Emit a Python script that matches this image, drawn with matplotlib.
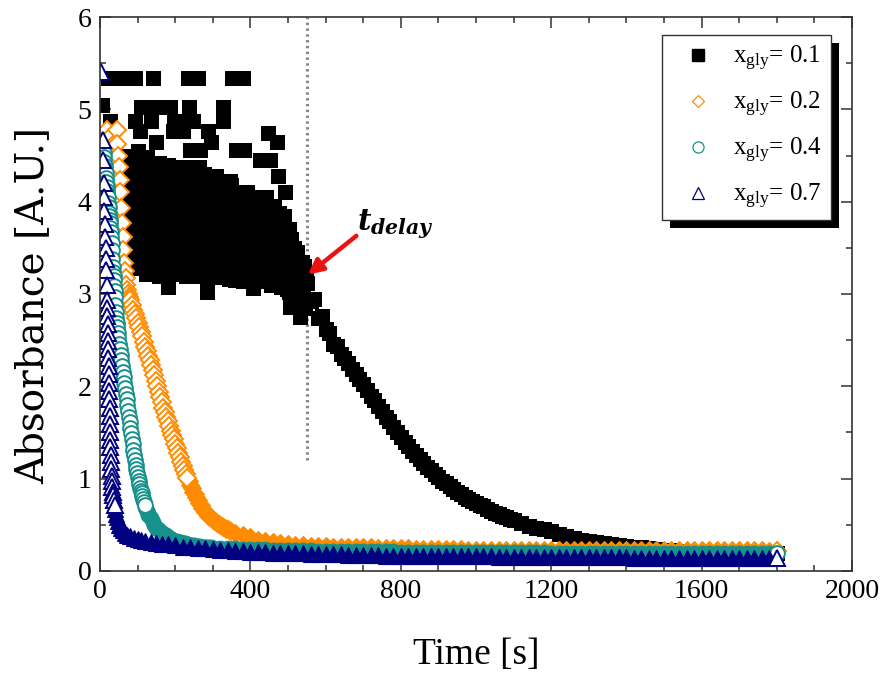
import numpy as np
import matplotlib.pyplot as plt
from matplotlib.lines import Line2D
from matplotlib.patches import Rectangle
from matplotlib.transforms import IdentityTransform
from matplotlib.ticker import MultipleLocator

plt.rcParams['font.family'] = 'Liberation Serif'
plt.rcParams['mathtext.fontset'] = 'dejavuserif'

# ---- x_gly = 0.1 (black squares) ----
t_black_early = [6, 22, 28, 62]
a_black_early = [5.05, 5.34, 4.87, 5.34]
# noisy plateau before t_delay, even seconds (with the scattered high points)
t_black_even = np.arange(70, 549, 2)
a_black_even = [
    3.25, 4.50, 3.85, 3.45, 4.30, 3.60, 4.00,
    3.95, 3.28, 4.35, 3.55, 5.34, 4.87, 3.75, 4.20, 3.35, 4.55, 3.65, 4.76,
    4.05, 5.03, 3.30, 3.90, 4.40, 3.50, 4.15, 3.22, 3.80, 4.48, 3.60, 4.25,
    3.40, 4.00, 4.87, 3.70, 5.34, 3.25, 4.30, 5.03, 3.85, 4.65, 3.55, 4.10,
    4.42, 3.20, 3.75, 4.20, 3.45, 3.95, 3.30, 4.35, 3.65, 4.05, 3.25, 3.85,
    3.08, 4.40, 3.55, 5.03, 4.15, 3.35, 3.90, 4.76, 4.87, 3.70, 4.30, 3.22,
    4.00, 3.50, 4.38, 3.28, 3.80, 4.20, 3.60, 4.05, 4.87, 4.76, 3.40, 3.95,
    4.30, 3.20, 3.70, 5.34, 4.10, 5.03, 4.56, 3.50, 3.85, 4.35, 4.87, 3.30,
    4.00, 3.60, 4.25, 3.20, 5.34, 3.75, 4.38, 4.56, 3.45, 3.95, 4.15, 3.25,
    3.65, 4.30, 3.35, 3.90, 3.02, 4.76, 4.05, 3.55, 3.20, 4.20, 4.65, 3.80,
    3.45, 4.10, 3.70, 3.18, 4.28, 3.90, 3.35, 3.60, 4.15, 3.25, 3.80, 4.00,
    3.50, 5.03, 4.87, 4.22, 3.20, 3.70, 3.95, 3.40, 4.10, 3.60, 3.16, 3.85,
    4.18, 5.34, 3.30, 3.75, 3.50, 4.00, 3.15, 4.56, 3.65, 3.90, 3.40, 4.10,
    3.25, 3.80, 4.05, 3.55, 5.34, 4.56, 3.18, 3.70, 3.95, 3.40, 4.10, 3.60,
    3.85, 3.30, 4.00, 3.50, 3.15, 3.07, 3.75, 3.95, 3.25, 3.60, 3.90, 3.40,
    3.70, 3.15, 4.00, 4.45, 3.50, 3.85, 3.30, 3.95, 3.60, 3.20, 3.75, 3.45,
    3.90, 4.74, 3.35, 3.65, 4.45, 3.15, 3.80, 3.50, 3.25, 3.70, 3.95, 3.40,
    3.60, 3.15, 4.65, 4.28, 3.80, 3.35, 3.55, 3.08, 3.75, 3.25, 3.50, 3.85,
    4.11, 3.30, 3.60, 3.05, 3.45, 3.70, 3.15, 2.86, 3.55, 3.25, 3.40, 3.00,
    3.50, 3.20, 3.35, 2.95, 3.45, 3.10, 3.30, 2.90, 2.75, 3.25, 3.05, 3.35,
    3.00, 3.30, 2.85, 3.15, 2.95]
# same plateau, odd seconds (dense core of the cloud)
t_black_odd = np.arange(71, 548, 2)
core_a0 = [3.30, 4.00, 3.50, 4.15, 3.80, 3.35, 4.30]
core_a1 = [3.90, 3.40, 4.25, 3.60, 4.40, 3.30, 4.00, 3.50, 4.15, 3.80, 3.35, 4.30]
core_a2 = [3.45, 4.10, 3.65, 4.35, 3.28, 3.85, 4.20, 3.55, 3.95, 3.40, 4.45, 3.70]
core_b1 = [3.85, 3.35, 4.20, 3.55, 4.38, 3.25, 3.95, 3.45, 4.10, 3.75, 3.30, 4.25]
core_b2 = [3.40, 4.05, 3.60, 4.30, 3.22, 3.80, 4.15, 3.50, 3.90, 3.35, 4.35, 3.65]
core_c1 = [3.80, 3.30, 4.10, 3.50, 4.25, 3.20, 3.90, 3.40, 4.00, 3.65, 3.25, 4.15]
core_c2 = [3.35, 3.95, 3.55, 4.20, 3.18, 3.75, 4.05, 3.45, 3.85, 3.28, 4.22, 3.60]
core_d1 = [3.70, 3.25, 3.95, 3.45, 4.05, 3.15, 3.80, 3.35, 3.90, 3.55, 3.20, 4.00]
core_d2 = [3.30, 3.85, 3.50, 4.02, 3.14, 3.65, 3.92, 3.40, 3.75, 3.22, 4.05, 3.58]
core_e1 = [3.60, 3.20, 3.85, 3.40, 3.90, 3.10, 3.70, 3.30, 3.80, 3.50, 3.15, 3.75]
core_e2 = [3.25, 3.75, 3.45, 3.88, 3.12, 3.65, 3.35, 3.82, 3.55, 3.18, 3.70, 3.40]
core_f1 = [3.45, 3.10, 3.65, 3.25, 3.70, 3.02, 3.55, 3.18, 3.60, 3.35, 3.05, 3.50]
core_g1 = [3.20, 2.95, 3.30, 3.05, 3.35, 2.88, 3.25, 3.00, 3.28, 3.12, 2.92, 3.15]
core_end = [3.05, 3.25, 2.90, 3.15]
a_black_odd = (core_a0 + core_a2 + core_a1 + core_b1 + core_b2 + core_b1 + core_b2
               + core_b1 + core_c1 + core_c2 + core_c1 + core_c2 + core_d1 + core_d2
               + core_d1 + core_d2 + core_e1 + core_e2 + core_f1 + core_g1 + core_end)
t_black_decay = np.arange(550, 1091, 10)
a_black_decay = [
    3.12, 2.92, 2.95, 2.74, 2.76, 2.62, 2.58, 2.46, 2.44, 2.35,
    2.31, 2.25, 2.19, 2.13, 2.08, 2.02, 1.96, 1.90, 1.85, 1.79,
    1.73, 1.67, 1.62, 1.56, 1.50, 1.45, 1.40, 1.35, 1.30, 1.26,
    1.21, 1.17, 1.13, 1.09, 1.05, 1.02, 0.98, 0.95, 0.92, 0.89,
    0.86, 0.83, 0.80, 0.78, 0.76, 0.74, 0.72, 0.70, 0.67, 0.65,
    0.63, 0.62, 0.60, 0.58, 0.56]
t_black_tail = np.arange(1100, 1801, 20)
a_black_tail = [
    0.55, 0.52, 0.49, 0.47, 0.45, 0.43, 0.40, 0.38, 0.355, 0.335,
    0.325, 0.315, 0.305, 0.295, 0.285, 0.275, 0.265, 0.255, 0.248, 0.24,
    0.232, 0.224, 0.215, 0.205, 0.20, 0.20, 0.20, 0.20, 0.20, 0.20,
    0.20, 0.20, 0.20, 0.20, 0.20, 0.20]

# ---- x_gly = 0.2 (orange diamonds) ----
t_orange_head = [19, 28, 36, 44, 46, 48, 50, 52, 54, 56, 58, 60, 62, 64,
                 66, 68, 70, 72, 74, 76, 78]
a_orange_head = [4.78, 4.70, 4.62, 4.78, 4.62, 4.49, 4.38, 4.24, 4.10, 3.93,
                 3.77, 3.62, 3.48, 3.34, 3.25, 3.17, 3.10, 3.04, 3.00, 2.97, 2.95]
t_orange_mid = np.arange(80, 349, 4)
a_orange_mid = [
    2.93, 2.88, 2.83, 2.78, 2.74, 2.69, 2.64, 2.59, 2.54, 2.48,
    2.43, 2.38, 2.33, 2.28, 2.23, 2.18, 2.12, 2.06, 2.00, 1.94,
    1.88, 1.83, 1.77, 1.72, 1.67, 1.62, 1.57, 1.52, 1.47, 1.43,
    1.38, 1.33, 1.28, 1.23, 1.18, 1.14, 1.09, 1.05, 1.01, 0.97,
    0.93, 0.90, 0.86, 0.83, 0.80, 0.77, 0.74, 0.71, 0.68, 0.66,
    0.64, 0.62, 0.60, 0.59, 0.57, 0.56, 0.54, 0.53, 0.52, 0.51,
    0.50, 0.49, 0.48, 0.47, 0.46, 0.45, 0.44, 0.435]
t_orange_tail = np.arange(360, 1801, 20)
a_orange_tail = [
    0.415, 0.39, 0.365, 0.34, 0.325, 0.31, 0.30, 0.29, 0.285, 0.28,
    0.275, 0.27, 0.27, 0.265, 0.265, 0.26, 0.26, 0.255, 0.255, 0.25,
    0.25, 0.248, 0.246, 0.244, 0.242, 0.24, 0.238, 0.236, 0.235, 0.234,
    0.233, 0.232, 0.231, 0.23, 0.23, 0.229, 0.228, 0.228, 0.227, 0.227,
    0.226, 0.226, 0.226, 0.226, 0.226, 0.226, 0.226, 0.226, 0.226, 0.226,
    0.225, 0.225, 0.225, 0.225, 0.225, 0.225, 0.225, 0.225, 0.225, 0.225,
    0.223, 0.223, 0.223, 0.223, 0.223, 0.223, 0.223, 0.223, 0.223, 0.223,
    0.222, 0.221, 0.22]

# ---- x_gly = 0.4 (teal circles) ----
t_teal_head = np.arange(10, 46, 1)
a_teal_head = [
    4.53, 4.48, 4.43, 4.39, 4.35, 4.31, 4.26, 4.21, 4.16, 4.12,
    4.08, 4.05, 3.99, 3.94, 3.88, 3.84, 3.80, 3.77, 3.72, 3.67,
    3.62, 3.55, 3.48, 3.38, 3.29, 3.24, 3.20, 3.15, 3.09, 3.03,
    2.97, 2.88, 2.80, 2.74, 2.69, 2.64]
t_teal_mid = np.arange(47, 130, 2)
a_teal_mid = [
    2.58, 2.52, 2.46, 2.40, 2.34, 2.28, 2.22, 2.16, 2.10, 2.04,
    1.98, 1.92, 1.86, 1.80, 1.73, 1.67, 1.61, 1.55, 1.49, 1.43,
    1.37, 1.31, 1.26, 1.20, 1.15, 1.10, 1.06, 1.02, 0.98, 0.94,
    0.90, 0.87, 0.84, 0.81, 0.78, 0.75, 0.72, 0.69, 0.67, 0.65,
    0.63, 0.61]
t_teal_late = np.arange(135, 296, 5)
a_teal_late = [
    0.57, 0.53, 0.50, 0.47, 0.45, 0.43, 0.41, 0.40, 0.385, 0.37,
    0.36, 0.35, 0.34, 0.33, 0.32, 0.315, 0.31, 0.305, 0.30, 0.295,
    0.29, 0.285, 0.28, 0.28, 0.275, 0.27, 0.27, 0.265, 0.265, 0.26,
    0.26, 0.255, 0.255]
t_teal_tail = np.arange(300, 1801, 20)
a_teal_tail = [
    0.25, 0.25, 0.245, 0.245, 0.24, 0.24, 0.235, 0.235, 0.23, 0.23,
    0.23, 0.225, 0.225, 0.225, 0.22, 0.22, 0.22, 0.22, 0.215, 0.215,
    0.215, 0.215, 0.215, 0.215, 0.215, 0.21, 0.21, 0.21, 0.21, 0.21,
    0.21, 0.21, 0.21, 0.21, 0.21, 0.205, 0.205, 0.205, 0.205, 0.205,
    0.205, 0.205, 0.205, 0.205, 0.205, 0.20, 0.20, 0.20, 0.20, 0.20,
    0.20, 0.20, 0.20, 0.20, 0.20, 0.20, 0.20, 0.20, 0.20, 0.20,
    0.20, 0.20, 0.20, 0.20, 0.20, 0.195, 0.195, 0.195, 0.195, 0.195,
    0.195, 0.195, 0.195, 0.195, 0.195, 0.195]

# ---- x_gly = 0.7 (navy triangles) ----
t_navy_head = [4, 7, 8.5, 10, 11, 12, 13, 14, 15, 16, 17, 18, 19, 19.5, 20,
               20.5, 21, 21.5, 22, 22.5, 23, 23.5, 24, 24.5, 25, 25.5, 26,
               26.5, 27, 27.5, 28, 28.5, 29, 30, 31, 32, 33, 34, 35, 37, 39,
               41, 43, 45, 48, 51, 55, 60, 66, 72, 80, 90, 100, 110, 120,
               135, 150, 165]
a_navy_head = [5.40, 4.67, 4.45, 4.20, 4.05, 3.90, 3.76, 3.62, 3.50, 3.38,
               3.26, 3.10, 2.94, 2.85, 2.76, 2.67, 2.58, 2.49, 2.40, 2.31,
               2.22, 2.13, 2.04, 1.95, 1.86, 1.77, 1.68, 1.59, 1.50, 1.42,
               1.34, 1.26, 1.18, 1.10, 1.03, 0.97, 0.91, 0.86, 0.82, 0.77,
               0.72, 0.67, 0.62, 0.58, 0.54, 0.50, 0.47, 0.44, 0.41, 0.39,
               0.375, 0.36, 0.345, 0.335, 0.325, 0.315, 0.305, 0.295]
t_navy_tail = np.arange(180, 1801, 20)
a_navy_tail = [
    0.29, 0.28, 0.265, 0.26, 0.25, 0.245, 0.24, 0.23, 0.23, 0.22,
    0.22, 0.21, 0.21, 0.205, 0.20, 0.20, 0.195, 0.19, 0.19, 0.185,
    0.185, 0.18, 0.18, 0.18, 0.175, 0.175, 0.17, 0.17, 0.17, 0.165,
    0.165, 0.165, 0.165, 0.165, 0.165, 0.165,
    0.16, 0.16, 0.16, 0.16, 0.16, 0.16, 0.16, 0.16,
    0.155, 0.155, 0.155, 0.155, 0.155, 0.155, 0.155, 0.155,
    0.15, 0.15, 0.15, 0.15, 0.15, 0.15, 0.15, 0.15, 0.15, 0.15,
    0.145, 0.145, 0.145, 0.145, 0.145, 0.145, 0.145, 0.145, 0.145, 0.145,
    0.14, 0.14, 0.14, 0.14, 0.14, 0.14, 0.14, 0.14, 0.14, 0.14]

labels = ['0.1', '0.2', '0.4', '0.7']
c_orange = '#ff8c00'
c_teal = '#17918b'
c_navy = '#000080'

t_black = np.concatenate([t_black_early, t_black_even, t_black_odd, t_black_decay, t_black_tail])
a_black = np.concatenate([a_black_early, a_black_even, a_black_odd, a_black_decay, a_black_tail])
t_orange = np.concatenate([t_orange_head, t_orange_mid, t_orange_tail])
a_orange = np.concatenate([a_orange_head, a_orange_mid, a_orange_tail])
t_teal = np.concatenate([t_teal_head, t_teal_mid, t_teal_late, t_teal_tail])
a_teal = np.concatenate([a_teal_head, a_teal_mid, a_teal_late, a_teal_tail])
t_navy = np.concatenate([t_navy_head, t_navy_tail])
a_navy = np.concatenate([a_navy_head, a_navy_tail])

ms_sq, ms_di, ms_ci, ms_tri = 10.8, 9.6, 10.6, 11.4

fig = plt.figure(figsize=(8.87, 6.75), dpi=100)
ax = fig.add_axes([0.1127, 0.1541, 0.8478, 0.8207])


def draw(t, a, marker, color, ms, t_open):
    # dense overlapping points look solid; the sparse steep part shows open symbols
    solid = (t >= t_open) & (t < t.max())
    ax.plot(t[solid], a[solid], ls='none', marker=marker, ms=ms,
            mfc=color, mec=color, mew=0.8)
    ax.plot(t[~solid], a[~solid], ls='none', marker=marker, ms=ms,
            mfc='white', mec=color, mew=1.4)


ax.plot(t_black, a_black, ls='none', marker='s', ms=ms_sq, mfc='black', mec='black', mew=0)
draw(t_orange, a_orange, 'D', c_orange, ms_di, 236)
draw(t_teal, a_teal, 'o', c_teal, ms_ci, 120)
draw(t_navy, a_navy, '^', c_navy, ms_tri, 40)

# t_delay marker
ax.plot([550, 550], [1.2, 6], color='#888888', lw=2.2, ls=(0, (0.8, 1.1)), zorder=1)
ax.annotate('', xy=(553, 3.21), xytext=(682, 3.63),
            arrowprops=dict(arrowstyle='-|>', color='#ee1111', lw=3.2,
                            mutation_scale=22, shrinkA=0, shrinkB=0))
ax.text(683, 3.76, r'$\boldsymbol{t}_{\boldsymbol{delay}}$', fontsize=21,
        ha='left', va='center')

ax.set_xlim(0, 2000)
ax.set_ylim(0, 6)
ax.xaxis.set_major_locator(MultipleLocator(400))
ax.xaxis.set_minor_locator(MultipleLocator(100))
ax.yaxis.set_major_locator(MultipleLocator(1))
ax.yaxis.set_minor_locator(MultipleLocator(0.5))
ax.tick_params(which='both', direction='in', top=True, right=True,
               width=1.1, color='#333333')
ax.tick_params(which='major', length=8, labelsize=20, pad=6)
ax.tick_params(which='minor', length=4.5)
for s in ax.spines.values():
    s.set_linewidth(1.2)
    s.set_color('#333333')

ax.set_xlabel('Time [s]', fontsize=27, labelpad=24)
ax.set_ylabel('Absorbance [A.U.]', fontsize=28, family='DejaVu Serif', labelpad=3)
ax.yaxis.set_label_coords(-0.065, 0.48)

handles = [
    Line2D([], [], ls='none', marker='s', ms=8.2, mfc='black', mec='black'),
    Line2D([], [], ls='none', marker='D', ms=6.6, mfc='white', mec=c_orange, mew=0.9),
    Line2D([], [], ls='none', marker='o', ms=8.0, mfc='white', mec=c_teal, mew=0.9),
    Line2D([], [], ls='none', marker='^', ms=9.0, mfc='white', mec=c_navy, mew=0.9),
]
texts = [r'$\mathregular{x_{gly}}$= ' + v for v in labels]
leg = ax.legend(handles, texts, loc='upper right', bbox_to_anchor=(0.972, 0.9675),
                borderaxespad=0, fontsize=18, frameon=True, fancybox=False,
                edgecolor='#333333', framealpha=1, borderpad=0.35,
                handlelength=2.2, handletextpad=0.3, labelspacing=0.68)
leg.get_frame().set_linewidth(1.0)

# solid black drop shadow behind the legend box
fig.canvas.draw()
bb = leg.get_window_extent()
shadow = Rectangle((bb.x0 + 8, bb.y0 - 8), bb.width, bb.height,
                   transform=IdentityTransform(), facecolor='black',
                   edgecolor='none', zorder=leg.get_zorder() - 0.1, clip_on=False)
ax.add_artist(shadow)

fig.savefig('out.png', dpi=100)
